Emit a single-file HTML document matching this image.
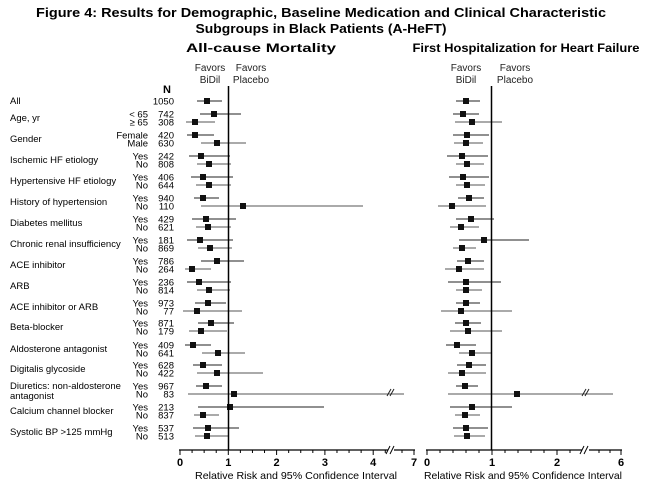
<!DOCTYPE html>
<html><head><meta charset="utf-8"><style>
html,body{margin:0;padding:0;background:#fff;}
svg{display:block;font-family:"Liberation Sans",Arial,sans-serif;}
</style></head><body>
<svg id="s" width="649" height="493" viewBox="0 0 649 493" xmlns="http://www.w3.org/2000/svg">
<text x="321" y="17" text-anchor="middle" font-weight="bold" font-size="13" textLength="570" lengthAdjust="spacingAndGlyphs">Figure 4: Results for Demographic, Baseline Medication and Clinical Characteristic</text>
<text x="321" y="33" text-anchor="middle" font-weight="bold" font-size="13" textLength="251" lengthAdjust="spacingAndGlyphs">Subgroups in Black Patients (A-HeFT)</text>
<text x="261" y="52" text-anchor="middle" font-weight="bold" font-size="12" textLength="150" lengthAdjust="spacingAndGlyphs">All-cause Mortality</text>
<text x="526" y="52" text-anchor="middle" font-weight="bold" font-size="12" textLength="227" lengthAdjust="spacingAndGlyphs">First Hospitalization for Heart Failure</text>
<g font-size="10" fill="#222" text-anchor="middle">
<text x="210" y="71">Favors</text><text x="210" y="83">BiDil</text>
<text x="251" y="71">Favors</text><text x="251" y="83">Placebo</text>
<text x="466" y="71">Favors</text><text x="466" y="83">BiDil</text>
<text x="515" y="71">Favors</text><text x="515" y="83">Placebo</text>
</g>
<text x="167" y="93" text-anchor="middle" font-weight="bold" font-size="11">N</text>
<g id="g"></g>
<line x1="228.5" y1="86" x2="228.5" y2="450" stroke="#000" stroke-width="1.5"/>
<line x1="491.5" y1="86" x2="491.5" y2="450" stroke="#000" stroke-width="1.5"/>
<text x="296" y="479" text-anchor="middle" font-size="10.5" textLength="202" lengthAdjust="spacingAndGlyphs">Relative Risk and 95% Confidence Interval</text>
<text x="523" y="479" text-anchor="middle" font-size="10.5" textLength="198" lengthAdjust="spacingAndGlyphs">Relative Risk and 95% Confidence Interval</text>
</svg>
<script>
var g=document.getElementById('g'),h='';
function L(x1,y1,x2,y2,c,w){h+='<line x1="'+x1+'" y1="'+y1+'" x2="'+x2+'" y2="'+y2+'" stroke="'+(c||'#333')+'" stroke-width="'+(w||1)+'"/>';}
function T(x,y,t,a,extra){h+='<text x="'+x+'" y="'+y+'" font-size="9.5" text-anchor="'+(a||'start')+'" '+(extra||'')+'>'+t+'</text>';}
var groups=[
["All",101,[["","1050",[197,207,222],[456,466,480]]]],
["Age, yr",114,[["&lt; 65","742",[200,214,241],[453,463,479]],["≥ 65","308",[186,195,215],[455,472,502]]]],
["Gender",135,[["Female","420",[187,195,214],[453,467,489]],["Male","630",[201,217,246],[454,466,483]]]],
["Ischemic HF etiology",156,[["Yes","242",[189,201,230],[447,462,488]],["No","808",[197,209,231],[456,467,484]]]],
["Hypertensive HF etiology",177,[["Yes","406",[191,203,233],[449,463,489]],["No","644",[196,209,231],[456,467,485]]]],
["History of hypertension",198,[["Yes","940",[194,203,219],[458,469,484]],["No","110",[201,243,363],[438,452,486]]]],
["Diabetes mellitus",219,[["Yes","429",[192,206,236],[456,471,494]],["No","621",[196,208,231],[450,461,479]]]],
["Chronic renal insufficiency",240,[["Yes","181",[187,200,233],[459,484,529]],["No","869",[198,210,232],[453,462,476]]]],
["ACE inhibitor",261,[["Yes","786",[201,217,244],[457,468,484]],["No","264",[185,192,211],[445,459,484]]]],
["ARB",282,[["Yes","236",[187,199,231],[448,466,501]],["No","814",[197,209,230],[456,466,482]]]],
["ACE inhibitor or ARB",303,[["Yes","973",[195,208,226],[456,466,480]],["No","77",[183,197,242],[441,461,512]]]],
["Beta-blocker",323,[["Yes","871",[198,211,234],[455,466,481]],["No","179",[189,201,227],[450,468,502]]]],
["Aldosterone antagonist",345,[["Yes","409",[185,193,211],[446,457,476]],["No","641",[202,218,245],[459,472,491]]]],
["Digitalis glycoside",365,[["Yes","628",[193,203,222],[457,469,486]],["No","422",[197,217,263],[448,462,486]]]],
["Diuretics: non-aldosterone",386,[["Yes","967",[196,206,222],[456,465,478]],["No","83",[188,234,404],[448,517,613]]]],
["Calcium channel blocker",407,[["Yes","213",[198,230,324],[450,472,512]],["No","837",[194,203,219],[455,465,480]]]],
["Systolic BP &gt;125 mmHg",428,[["Yes","537",[193,208,239],[453,466,488]],["No","513",[195,207,228],[454,467,485]]]]
];
groups.forEach(function(gr,i){
  var y=gr[1],rows=gr[2];
  var ly=rows.length>1?y+7:y+3;
  if(i==14){T(10,y+3,gr[0]);T(10,y+13,"antagonist");}
  else T(10,ly,gr[0]);
  rows.forEach(function(r,j){
    var yy=y+j*8;
    if(r[0])T(148,yy+3.5,r[0],'end');
    T(174,yy+3.5,r[1],'end');
    var a=r[2],b=r[3],c=(j%2?'#555':'#222');
    L(a[0],yy,a[2],yy,c);L(b[0],yy,b[2],yy,c);
    h+='<rect x="'+(a[1]-3)+'" y="'+(yy-3)+'" width="6" height="6" fill="#111"/>';
    h+='<rect x="'+(b[1]-3)+'" y="'+(yy-3)+'" width="6" height="6" fill="#111"/>';
  });
});
// break marks on diuretics No
h+='<line x1="387" y1="396" x2="391" y2="389" stroke="#222"/><line x1="390" y1="396" x2="394" y2="389" stroke="#222"/>';
h+='<line x1="582" y1="396" x2="586" y2="389" stroke="#222"/><line x1="585" y1="396" x2="589" y2="389" stroke="#222"/>';
// left axis
L(179,450,388,450,'#000',1.2);L(394,450,415,450,'#000',1.2);
h+='<line x1="386" y1="454" x2="390" y2="446" stroke="#000"/><line x1="390" y1="454" x2="394" y2="446" stroke="#000"/>';
for(var v=0;v<=4.3;v+=0.25){var x=180+v*48.3;L(x,450,x,(Math.abs(v-Math.round(v))<0.01)?455:453,'#000');}
L(414,450,414,455,'#000');L(402,450,402,453,'#000');
[0,1,2,3,4].forEach(function(v){h+='<text x="'+(180+v*48.3)+'" y="466" font-size="11" font-weight="bold" text-anchor="middle">'+v+'</text>';});
h+='<text x="414" y="466" font-size="11" font-weight="bold" text-anchor="middle">7</text>';
// right axis
L(426,450,582,450,'#000',1.2);L(589,450,622,450,'#000',1.2);
h+='<line x1="580" y1="454" x2="584" y2="446" stroke="#000"/><line x1="584" y1="454" x2="588" y2="446" stroke="#000"/>';
for(var v=0;v<=2.35;v+=0.2){var x=427+v*65;L(x,450,x,(Math.abs(v-Math.round(v))<0.01)?455:453,'#000');}
L(621,450,621,455,'#000');L(599,450,599,453,'#000');L(610,450,610,453,'#000');
[0,1,2].forEach(function(v){h+='<text x="'+(427+v*65)+'" y="466" font-size="11" font-weight="bold" text-anchor="middle">'+v+'</text>';});
h+='<text x="621" y="466" font-size="11" font-weight="bold" text-anchor="middle">6</text>';
g.innerHTML=h;
</script>
</body></html>
